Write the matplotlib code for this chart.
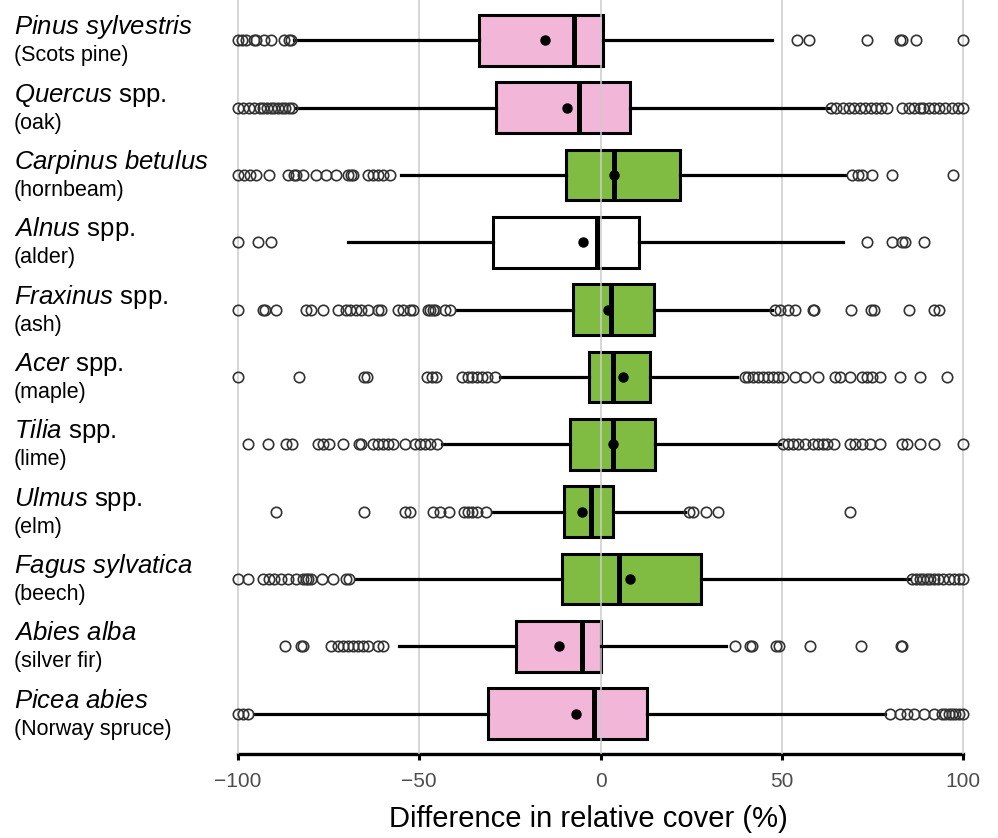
import numpy as np
import matplotlib.pyplot as plt

plt.rcParams['font.family'] = ['Liberation Sans', 'DejaVu Sans']
plt.rcParams['mathtext.fontset'] = 'custom'
plt.rcParams['mathtext.rm'] = 'Liberation Sans'
plt.rcParams['mathtext.it'] = 'Liberation Sans:italic'

# species labels (line 1 mathtext, line 2 common name)
species = [r'$\it{Pinus\ sylvestris}$', r'$\it{Quercus}$ spp.', r'$\it{Carpinus\ betulus}$',
           r'$\it{Alnus}$ spp.', r'$\it{Fraxinus}$ spp.', r'$\it{Acer}$ spp.', r'$\it{Tilia}$ spp.',
           r'$\it{Ulmus}$ spp.', r'$\it{Fagus\ sylvatica}$', r'$\it{Abies\ alba}$', r'$\it{Picea\ abies}$']
common = ['(Scots pine)', '(oak)', '(hornbeam)', '(alder)', '(ash)', '(maple)', '(lime)',
          '(elm)', '(beech)', '(silver fir)', '(Norway spruce)']

q1 = [-33.4, -28.9, -9.6, -29.6, -7.5, -3.2, -8.5, -10.1, -10.7, -23.4, -31.1]
median = [-7.4, -6.0, 3.7, -1.1, 3.0, 3.3, 3.4, -2.7, 5.1, -5.2, -1.9]
q3 = [0.8, 8.0, 21.8, 10.7, 14.7, 13.7, 14.9, 3.3, 27.7, 0.0, 12.9]
whislo = [-84.7, -84.0, -55.0, -69.6, -39.8, -27.8, -43.6, -29.9, -67.6, -55.7, -95.7]
whishi = [47.3, 63.0, 67.4, 66.8, 47.2, 37.7, 49.6, 23.3, 85.3, 34.5, 78.4]
means = [-15.4, -9.3, 3.7, -4.8, 2.1, 6.3, 3.4, -5.1, 8.0, -11.4, -6.7]

fliers = [
    [-100, -99, -97.7, -95.7, -95, -92.9, -90.8, -87.4, -86, -85.3,
     54.1, 57.6, 73.6, 82.5, 83.2, 87, 100],
    [-100, -98.5, -97, -95.5, -94, -93, -92, -91, -90, -89, -88, -87, -86, -85,
     63.5, 65, 67, 68.5, 70, 71.5, 73, 74.5, 76, 77.5, 79,
     83.2, 85, 86.5, 88, 89, 90.5, 92, 93.5, 95, 97, 98.5, 100],
    [-100, -98.4, -96.8, -95, -91.6, -86.1, -84.7, -84, -82, -78.5, -75.8, -73.1,
     -69.6, -68.9, -68.3, -64.2, -62.8, -61.4, -60.1, -58,
     69.5, 70.9, 72.2, 75, 80.5, 97.3],
    [-100, -94.6, -90.9, 73.6, 80.5, 83.2, 83.9, 89.1],
    [-100, -93.2, -92.5, -89.5, -81.3, -79.9, -76.5, -72.4, -70.3, -69, -67.6, -66.2,
     -64.2, -61.4, -60.7, -55.9, -54.5, -52.5, -51.8, -47.7, -47, -46.3, -45.6, -42.9, -41.5,
     48, 49.6, 51.7, 53.7, 58.5, 58.9, 69.1, 74.6, 75.4, 85, 92.1, 93.5],
    [-100, -83.3, -65.3, -64.4, -48, -46.6, -45.3, -38.1, -36.7, -35.4, -34, -32.6, -31.3, -29.2,
     39.8, 40.7, 42.1, 43.4, 44.8, 46.2, 47.6, 48.9, 50.3, 53.7, 56.5, 59.9, 64.7, 66.1,
     68.8, 72.2, 73.6, 75, 77, 82.5, 88, 95.5],
    [-97.3, -91.8, -86.8, -85, -77.9, -76.5, -74.8, -71, -66.6, -66.2, -62.8, -61.4, -60.1,
     -58.7, -57.3, -53.9, -51.1, -49.8, -48.4, -47, -45,
     50.3, 51.7, 53, 54.4, 56.5, 58.5, 59.9, 61.3, 62.6, 64.4, 68.8, 70.2, 72.2, 74.3, 77,
     83.2, 84.6, 88, 92.1, 100],
    [-89.5, -65.3, -53.9, -52.5, -46.3, -44.3, -41.9, -37.8, -36.7, -35.4, -34, -31.5,
     24.3, 25.6, 29.1, 32.5, 68.8],
    [-100, -97.3, -93.2, -91.6, -90.2, -88.1, -86.1, -84, -82, -81.3, -80.6, -79.9, -76.8,
     -73.8, -70.3, -69.4,
     86, 87, 88, 89, 90, 91, 92, 93, 94.5, 96, 97.5, 99, 100],
    [-87, -82.7, -82, -74.4, -72.4, -71, -69.6, -68.3, -66.9, -65.5, -64.2, -61.4, -60,
     37, 41.1, 41.7, 48.3, 49.3, 57.8, 71.8, 82.8, 83.2],
    [-100, -98.6, -97.3,
     79.8, 82.5, 84.6, 86.6, 89.3, 92.1, 94.2, 95.1, 96, 96.9, 97.9, 99, 100],
]

PINK = '#f2b6d9'
GREEN = '#80bc42'
colors = [PINK, PINK, GREEN, 'white', GREEN, GREEN, GREEN, GREEN, GREEN, PINK, PINK]

stats = []
for i in range(len(species)):
    stats.append(dict(med=median[i], q1=q1[i], q3=q3[i], whislo=whislo[i],
                      whishi=whishi[i], mean=means[i], fliers=np.array(fliers[i])))

fig = plt.figure(figsize=(9.98, 8.38), dpi=100)
ax = fig.add_axes([0.224, 0.1002, 0.7555, 0.8998])

pos = np.arange(len(species))
bp = ax.bxp(stats, positions=pos, orientation='horizontal', widths=0.75,
            showmeans=True, showcaps=False, patch_artist=True,
            boxprops=dict(edgecolor='black', linewidth=2.2),
            medianprops=dict(color='black', linewidth=3.6, solid_capstyle='butt'),
            whiskerprops=dict(color='black', linewidth=2.3),
            meanprops=dict(marker='o', markerfacecolor='black', markeredgecolor='black',
                           markersize=6.5),
            flierprops=dict(marker='o', markerfacecolor='none', markeredgecolor='#333333',
                            markersize=7.5, markeredgewidth=1.2))
for patch, c in zip(bp['boxes'], colors):
    patch.set_facecolor(c)
    patch.set_zorder(2)
for key in ['medians', 'whiskers', 'means', 'fliers']:
    for ln in bp[key]:
        ln.set_zorder(3)

ax.set_ylim(10.6, -0.6)
ax.set_xlim(-104, 104)
ax.set_axisbelow(False)
ax.grid(axis='x', color='#cccccc', linewidth=1.1)
ax.grid(axis='y', visible=False)
for s in ['top', 'right', 'left']:
    ax.spines[s].set_visible(False)
ax.spines['bottom'].set_linewidth(2.4)
ax.spines['bottom'].set_bounds(-100, 100)
ax.set_yticks([])
ax.set_xticks([-100, -50, 0, 50, 100])
ax.tick_params(axis='x', labelsize=15, labelcolor='#4d4d4d', width=2.2, length=4, pad=9)
ax.set_xlabel('Difference in relative cover (%)', fontsize=21)
ax.xaxis.set_label_coords(0.484, -0.068)

tr = ax.get_yaxis_transform()
for i in range(len(species)):
    ax.text(-0.278, i - 0.09, species[i], transform=tr, fontsize=18.5, va='baseline', ha='left')
    ax.text(-0.278, i + 0.31, common[i], transform=tr, fontsize=15.5, va='baseline', ha='left')

fig.savefig('out.png', dpi=100)
